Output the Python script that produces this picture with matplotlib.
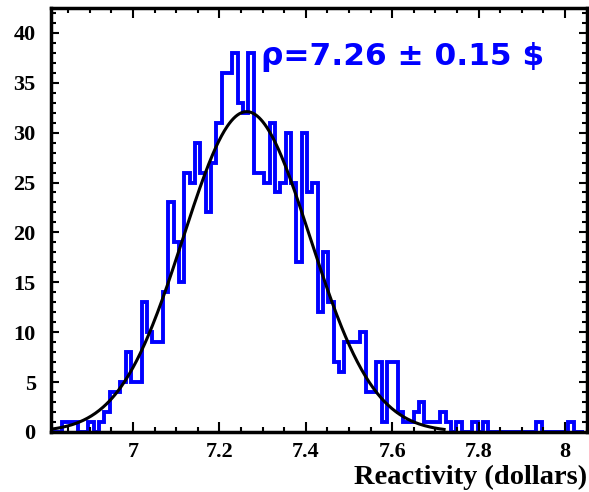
import matplotlib.pyplot as plt
import numpy as np

# histogram: 100 bins between x_lo and x_hi
x_lo, x_hi = 6.81, 8.045
counts = [
    0, 0, 1, 1, 1, 0, 0, 1, 0, 1,
    2, 4, 4, 5, 8, 5, 5, 13, 10, 9,
    9, 14, 23, 19, 15, 26, 25, 29, 26, 22,
    27, 31, 36, 36, 38, 33, 32, 38, 26, 26,
    25, 31, 24, 25, 30, 25, 17, 30, 24, 25,
    12, 18, 13, 7, 6, 9, 9, 9, 10, 4,
    4, 7, 1, 7, 7, 2, 1, 1, 2, 3,
    1, 1, 1, 2, 1, 0, 1, 0, 0, 1,
    0, 1, 0, 0, 0, 0, 0, 0, 0, 0,
    0, 1, 0, 0, 0, 0, 0, 1, 0, 0,
]

# gaussian fit
fit_amp = 32.1
fit_mean = 7.263
fit_sigma = 0.147
fit_range = (6.81, 7.72)

label_text = "ρ=7.26 ± 0.15 $"
x_label = "Reactivity (dollars)"
x_ticks = [7, 7.2, 7.4, 7.6, 7.8, 8]
x_tick_labels = ["7", "7.2", "7.4", "7.6", "7.8", "8"]
y_ticks = [0, 5, 10, 15, 20, 25, 30, 35, 40]


def gauss(x):
    return fit_amp * np.exp(-0.5 * ((x - fit_mean) / fit_sigma) ** 2)


fig = plt.figure(figsize=(5.89, 4.92), dpi=100)
ax = fig.add_axes([0.0866, 0.122, 0.9094, 0.862])

edges = np.linspace(x_lo, x_hi, len(counts) + 1)
ax.stairs(counts, edges, color="#0000ff", lw=2.8, baseline=0)

xf = np.linspace(*fit_range, 400)
ax.plot(xf, gauss(xf), color="black", lw=2.2)

ax.set_xlim(x_lo, x_hi)
ax.set_ylim(0, 42.5)

ax.set_xticks(x_ticks)
ax.set_xticklabels(x_tick_labels)
ax.set_xticks(np.arange(6.85, 8.05, 0.05), minor=True)
ax.set_yticks(y_ticks)
ax.set_yticks(np.arange(0, 43, 1), minor=True)

serif = {"family": "Liberation Serif", "weight": "bold", "size": 16}
for lab in ax.get_xticklabels() + ax.get_yticklabels():
    lab.set_fontproperties(serif)

ax.tick_params(which="both", direction="in", top=True, right=True, width=1.5)
ax.tick_params(axis="x", which="major", length=7.5, pad=7)
ax.tick_params(axis="x", which="minor", length=3.6)
ax.tick_params(axis="y", which="major", length=6, pad=11)
ax.tick_params(axis="y", which="minor", length=3.6)
for sp in ax.spines.values():
    sp.set_linewidth(2.5)

ax.set_xlabel(x_label, fontdict=serif | {"size": 20.5}, loc="right", labelpad=2)

ax.text(7.295, 36.8, label_text, color="#0000ff", fontsize=22.5,
        family="DejaVu Sans", weight="bold", ha="left", va="baseline")

plt.savefig("out.png", dpi=100)
plt.close()
